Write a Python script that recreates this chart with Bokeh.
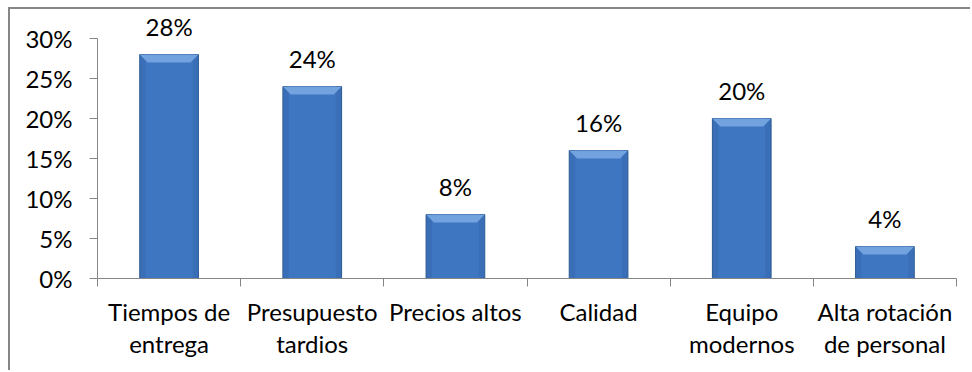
from bokeh.plotting import figure
from bokeh.models import FixedTicker, PrintfTickFormatter, Range1d, ColumnDataSource
from bokeh.core.properties import value
from bokeh.embed import file_html
from bokeh.resources import INLINE

categories = ["Tiempos de\nentrega", "Presupuesto\ntardios", "Precios altos",
              "Calidad", "Equipo\nmodernos", "Alta rotación\nde personal"]
values = [28, 24, 8, 16, 20, 4]
y_ticks = [0, 5, 10, 15, 20, 25, 30]

FONT = "Lato"
GREY = "#868686"

n = len(categories)
centers = [i + 0.5 for i in range(n)]
bounds = [i for i in range(n + 1)]
bar_w = 0.41
bevel_dx = 0.055
bevel_h = 1.0

src = ColumnDataSource(dict(
    x=centers, top=values, label=[f"{v}%" for v in values],
))

bevel_xs = [[c - bar_w / 2, c + bar_w / 2, c + bar_w / 2 - bevel_dx, c - bar_w / 2 + bevel_dx] for c in centers]
bevel_ys = [[v, v, v - bevel_h, v - bevel_h] for v in values]

p = figure(width=962, height=363, x_range=Range1d(0, n), y_range=Range1d(0, 33.625),
           output_backend="svg", toolbar_location=None,
           min_border_left=87, min_border_right=16, min_border_top=0, min_border_bottom=94)
p.margin = (7, 0, 0, 8)
p.styles = {"border-top": f"2px solid {GREY}", "border-left": f"2px solid {GREY}"}
p.outline_line_color = None
p.xgrid.visible = False
p.ygrid.visible = False
p.background_fill_color = "white"
p.border_fill_color = "white"

# bars
p.vbar(x="x", top="top", bottom=0, width=bar_w, source=src,
       fill_color="#3A6FB8", line_color="#2C5A94", line_width=1)
p.vbar(x="x", top="top", bottom=0, width=bar_w * 0.8, source=src,
       fill_color="#3F78C3", line_color=None, fill_alpha=0.85)
p.patches(xs=bevel_xs, ys=bevel_ys, fill_color="#78A8E2", line_color=None, fill_alpha=0.9)

# data labels
p.text(x="x", y="top", text="label", source=src, text_align="center",
       text_baseline="alphabetic", y_offset=-28, text_font=value(FONT),
       text_font_size="24px", text_color="black")

# y axis
p.yaxis.ticker = FixedTicker(ticks=y_ticks)
p.yaxis.formatter = PrintfTickFormatter(format="%d%%")
p.yaxis.bounds = (y_ticks[0], y_ticks[-1])
p.yaxis.axis_line_color = GREY
p.yaxis.major_tick_line_color = GREY
p.yaxis.major_tick_out = 8
p.yaxis.major_tick_in = 0
p.yaxis.minor_tick_line_color = None
p.yaxis.major_label_standoff = 17
p.yaxis.major_label_text_font = FONT
p.yaxis.major_label_text_font_size = "24px"
p.yaxis.major_label_text_color = "black"

# x axis
p.xaxis.ticker = FixedTicker(ticks=centers, minor_ticks=bounds)
p.xaxis.major_label_overrides = {c: lab for c, lab in zip(centers, categories)}
p.xaxis.axis_line_color = GREY
p.xaxis.major_tick_line_color = None
p.xaxis.major_tick_out = 0
p.xaxis.major_tick_in = 0
p.xaxis.minor_tick_line_color = GREY
p.xaxis.minor_tick_out = 8
p.xaxis.minor_tick_in = 0
p.xaxis.major_label_standoff = 10
p.xaxis.major_label_text_font = FONT
p.xaxis.major_label_text_font_size = "24px"
p.xaxis.major_label_text_color = "black"
p.xaxis.major_label_text_line_height = 1.12

open("out.html", "w").write(file_html(p, INLINE))
